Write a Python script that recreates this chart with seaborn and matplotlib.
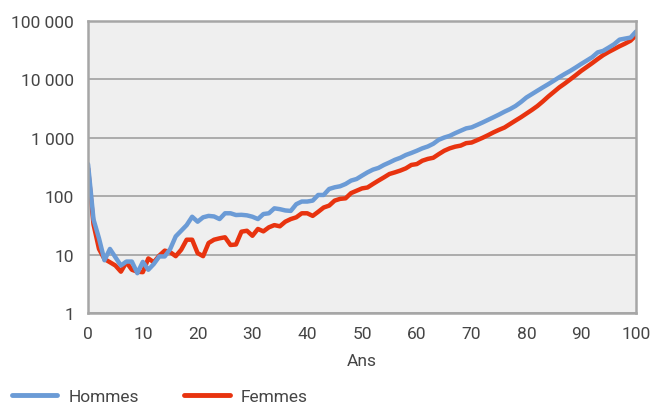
import pandas as pd
import matplotlib.pyplot as plt
import matplotlib.ticker as mticker
import seaborn as sns

# age 0..100
ages = list(range(0, 101))

hommes = [
    355, 40, 19, 8, 12.5, 9, 6.5, 7.6, 7.6, 4.8,
    7.5, 5.5, 6.9, 9.3, 9.3, 12.5, 20.5, 25.6, 32, 44.5,
    36.6, 43.5, 46, 45, 40.6, 51, 51, 47.6, 48, 47,
    44.5, 40.6, 49.5, 51, 62, 60, 57, 56, 73, 81,
    81, 84, 105, 105, 133, 142, 148, 162, 185, 197,
    225, 256, 285, 305, 343, 378, 420, 455, 508, 550,
    600, 660, 710, 790, 925, 1010, 1080, 1200, 1320, 1450,
    1510, 1660, 1830, 2030, 2250, 2500, 2800, 3100, 3500, 4100,
    4900, 5600, 6400, 7300, 8300, 9500, 10900, 12400, 14000, 16000,
    18400, 21000, 24000, 29000, 30800, 35000, 40000, 48000, 50000, 52000,
    66000,
]

femmes = [
    300, 33, 12.5, 8.4, 7.4, 6.5, 5.1, 7.4, 5.5, 5.1,
    5.0, 8.6, 7.4, 9.6, 11.7, 11, 9.4, 12.1, 18, 18,
    10.6, 9.4, 15.8, 18, 19, 19.8, 14.6, 14.9, 24.7, 25.6,
    21, 27.5, 25, 29.3, 32, 30.5, 36.6, 40.6, 43.5, 51,
    51, 46, 54, 64, 69, 84, 90, 92, 113, 124,
    136, 141, 162, 185, 210, 240, 256, 275, 300, 343,
    355, 405, 435, 455, 525, 600, 660, 705, 735, 810,
    830, 910, 1000, 1110, 1240, 1370, 1500, 1720, 1970, 2250,
    2600, 3000, 3500, 4200, 5100, 6100, 7300, 8500, 10000, 11800,
    14000, 16300, 19000, 22300, 26000, 29500, 33000, 37000, 41000, 46000,
    57000,
]

series = ['Hommes', 'Femmes']
colors = {'Hommes': '#6b9bd6', 'Femmes': '#e8330f'}

df = pd.concat([
    pd.DataFrame({'Ans': ages, 'Valeur': femmes, 'Sexe': 'Femmes'}),
    pd.DataFrame({'Ans': ages, 'Valeur': hommes, 'Sexe': 'Hommes'}),
])

sns.set_style('white')
plt.rcParams['font.family'] = ['Roboto', 'DejaVu Sans']
text_color = '#454545'
grid_color = '#a6a6a6'

fig = plt.figure(figsize=(6.54, 4.06), dpi=100)
ax = fig.add_axes([0.1346, 0.2266, 0.8379, 0.7192])
ax.set_facecolor('#efefef')

sns.lineplot(data=df, x='Ans', y='Valeur', hue='Sexe', palette=colors,
             linewidth=3.2, ax=ax, legend=False)

ax.set_yscale('log')
ax.set_ylim(1, 100000)
ax.set_xlim(0, 100)
ax.set_xticks(range(0, 101, 10))
ax.set_xticks(range(5, 100, 10), minor=True)
ax.yaxis.set_minor_locator(mticker.NullLocator())
ax.set_yticks([1, 10, 100, 1000, 10000, 100000])
ax.yaxis.set_major_formatter(
    mticker.FuncFormatter(lambda v, p: f'{int(round(v)):,}'.replace(',', ' ')))

ax.grid(axis='y', color=grid_color, linewidth=1.3)
ax.set_axisbelow(True)
for s in ax.spines.values():
    s.set_color(grid_color)
    s.set_linewidth(1.8)

ax.tick_params(axis='both', which='both', colors=grid_color, labelcolor=text_color,
               labelsize=12.5, length=4, width=1.2, direction='out')
ax.tick_params(axis='x', which='minor', length=3)
ax.tick_params(axis='x', pad=5)
ax.tick_params(axis='y', pad=6)

ax.set_xlabel('Ans', fontsize=12.5, color=text_color, labelpad=9)
ax.set_ylabel('')

handles = [plt.Line2D([], [], color=colors[s], linewidth=3.5) for s in series]
fig.legend(handles, series, loc='lower left', bbox_to_anchor=(-0.005, -0.035),
           ncol=2, frameon=False, fontsize=12.5, labelcolor=text_color,
           handlelength=2.6, handletextpad=0.65, columnspacing=2.6)

plt.savefig('out.png', dpi=100)
